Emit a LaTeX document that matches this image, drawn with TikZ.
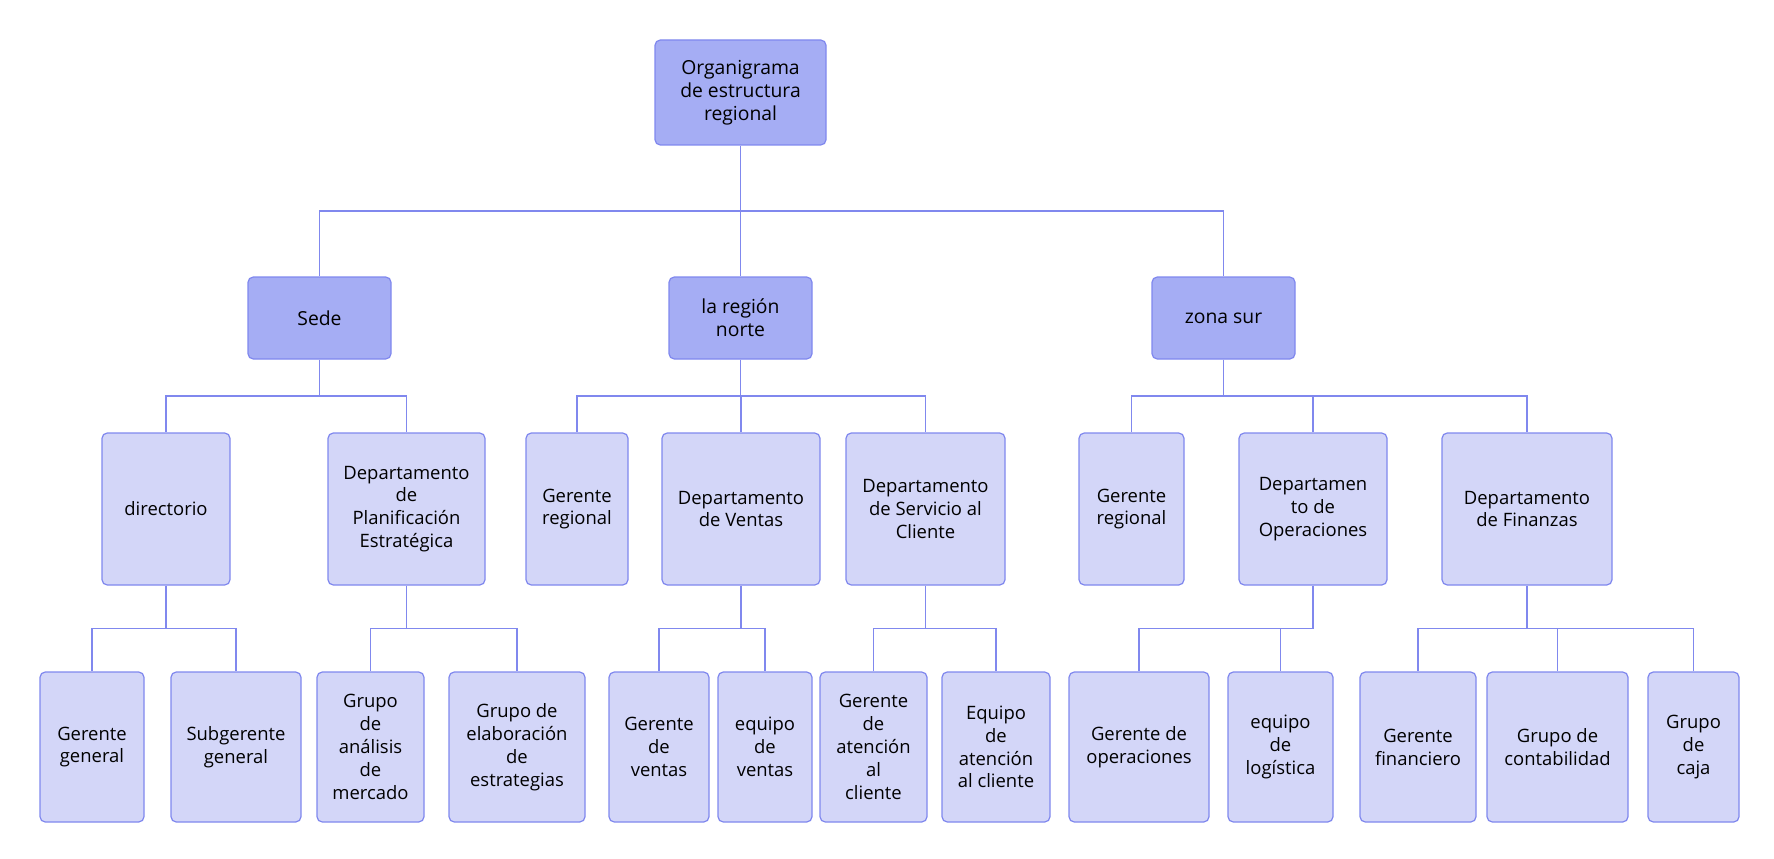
\documentclass[tikz,border=0pt]{standalone}
\usepackage{fontspec}
\setmainfont{Open Sans}
\usetikzlibrary{calc}
\definecolor{lineblue}{HTML}{8088EE}
\definecolor{headfill}{HTML}{A5ADF4}
\definecolor{unitfill}{HTML}{D3D6F8}

\begin{document}
\begin{tikzpicture}[
      every node/.style={font=\fontsize{10.5}{13}\selectfont},
      head/.style={draw=lineblue, line width=0.7pt, fill=headfill, rounded corners=3pt,
                   align=center, inner sep=2pt, font=\fontsize{11}{13}\selectfont},
      unit/.style={draw=lineblue, line width=0.7pt, fill=unitfill, rounded corners=3pt,
                   align=center, inner sep=2pt, minimum height=3.04cm},
      leaf/.style={unit, minimum height=3.0cm},
      link/.style={draw=lineblue, line width=0.7pt,
                   to path={(\tikztostart) |- ($(\tikztostart)!.5!(\tikztotarget)$) -| (\tikztotarget)}},
    ]
    \useasboundingbox (0,0) rectangle (35.48,-17.18);

    \node[head, minimum width=3.42cm, minimum height=2.10cm] (root) at (14.81,-1.85) {Organigrama\\de estructura\\regional};

    \node[head, minimum width=2.86cm, minimum height=1.64cm] (sede)  at ( 6.39,-6.36) {Sede};
    \node[head, minimum width=2.86cm, minimum height=1.64cm] (norte) at (14.81,-6.36) {la región\\norte};
    \node[head, minimum width=2.86cm, minimum height=1.64cm] (sur)   at (24.47,-6.36) {zona sur};

    \node[unit, minimum width=2.56cm] (dir)  at ( 3.32,-10.18) {directorio};
    \node[unit, minimum width=3.14cm] (plan) at ( 8.13,-10.18) {Departamento\\de\\Planificación\\Estratégica};
    \node[unit, minimum width=2.04cm] (grn)  at (11.54,-10.18) {Gerente\\regional};
    \node[unit, minimum width=3.16cm] (vent) at (14.82,-10.18) {Departamento\\de Ventas};
    \node[unit, minimum width=3.18cm] (serv) at (18.51,-10.18) {Departamento\\de Servicio al\\Cliente};
    \node[unit, minimum width=2.10cm] (grs)  at (22.63,-10.18) {Gerente\\regional};
    \node[unit, minimum width=2.96cm] (oper) at (26.26,-10.18) {Departamen\\to de\\Operaciones};
    \node[unit, minimum width=3.40cm] (fin)  at (30.54,-10.18) {Departamento\\de Finanzas};

    \node[leaf, minimum width=2.08cm] (gg)   at ( 1.84,-14.94) {Gerente\\general};
    \node[leaf, minimum width=2.60cm] (sgg)  at ( 4.72,-14.94) {Subgerente\\general};
    \node[leaf, minimum width=2.14cm] (gam)  at ( 7.41,-14.94) {Grupo\\de\\análisis\\de\\mercado};
    \node[leaf, minimum width=2.72cm] (gee)  at (10.34,-14.94) {Grupo de\\elaboración\\de\\estrategias};
    \node[leaf, minimum width=2.00cm] (gv)   at (13.18,-14.94) {Gerente\\de\\ventas};
    \node[leaf, minimum width=1.88cm] (ev)   at (15.30,-14.94) {equipo\\de\\ventas};
    \node[leaf, minimum width=2.14cm] (gac)  at (17.47,-14.94) {Gerente\\de\\atención\\al\\cliente};
    \node[leaf, minimum width=2.16cm] (eac)  at (19.92,-14.94) {Equipo\\de\\atención\\al cliente};
    \node[leaf, minimum width=2.80cm] (gop)  at (22.78,-14.94) {Gerente de\\operaciones};
    \node[leaf, minimum width=2.10cm] (elog) at (25.61,-14.94) {equipo\\de\\logística};
    \node[leaf, minimum width=2.32cm] (gfin) at (28.36,-14.94) {Gerente\\financiero};
    \node[leaf, minimum width=2.82cm] (gcon) at (31.15,-14.94) {Grupo de\\contabilidad};
    \node[leaf, minimum width=1.82cm] (gcaj) at (33.87,-14.94) {Grupo\\de\\caja};

    \draw[link] (root.south) to (sede.north) (root.south) to (norte.north) (root.south) to (sur.north);
    \draw[link] (sede.south) to (dir.north) (sede.south) to (plan.north);
    \draw[link] (norte.south) to (grn.north) (norte.south) to (vent.north) (norte.south) to (serv.north);
    \draw[link] (sur.south) to (grs.north) (sur.south) to (oper.north) (sur.south) to (fin.north);
    \draw[link] (dir.south) to (gg.north) (dir.south) to (sgg.north);
    \draw[link] (plan.south) to (gam.north) (plan.south) to (gee.north);
    \draw[link] (vent.south) to (gv.north) (vent.south) to (ev.north);
    \draw[link] (serv.south) to (gac.north) (serv.south) to (eac.north);
    \draw[link] (oper.south) to (gop.north) (oper.south) to (elog.north);
    \draw[link] (fin.south) to (gfin.north) (fin.south) to (gcon.north) (fin.south) to (gcaj.north);
    \end{tikzpicture}
\end{document}
